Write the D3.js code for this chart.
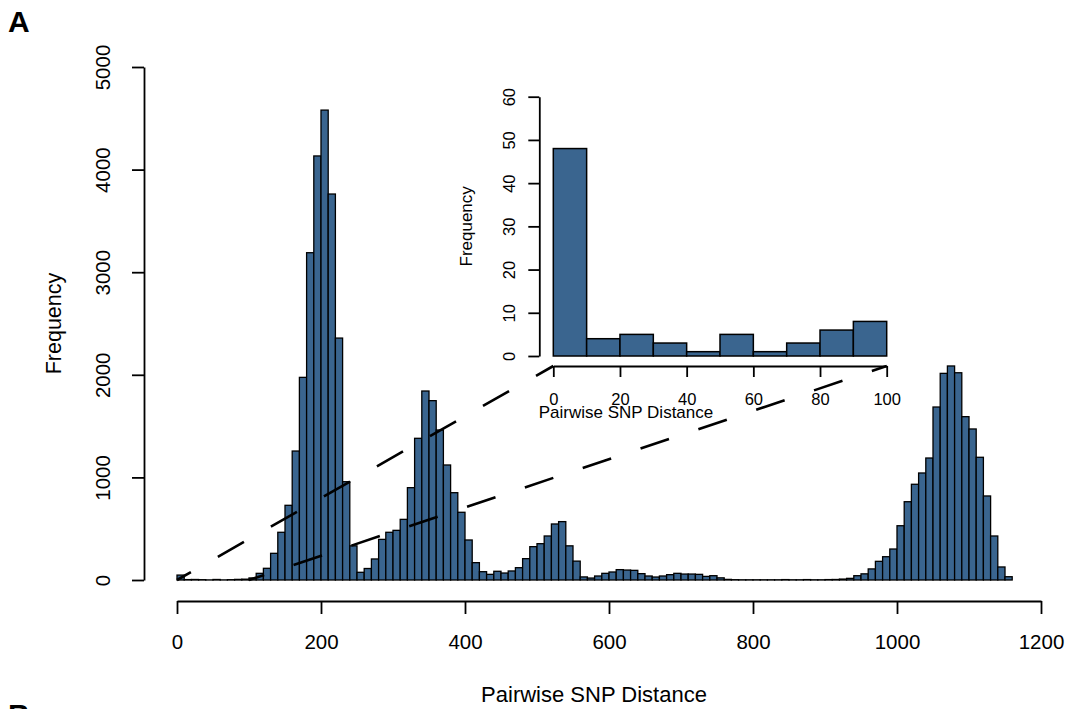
<!DOCTYPE html>
<html>
<head>
<meta charset="utf-8">
<script src="https://cdn.jsdelivr.net/npm/d3@7/dist/d3.min.js"></script>
<style>
  html, body { margin: 0; padding: 0; background: #ffffff; }
  svg { display: block; }
  text { font-family: "Liberation Sans", Arial, Helvetica, sans-serif; fill: #000; }
</style>
</head>
<body>
<svg id="chart" width="1065" height="709"></svg>
<script>
// ---------------- DATA ----------------
// Main histogram: counts per 10-SNP bin, starting at 0
const mainBinWidth = 10;
const mainCounts = [
  48, 4, 5, 3, 1, 5, 1, 3, 6, 8,            // 0-100
  20, 65, 114, 260, 465, 728, 1257, 1975, 3190, 4133,   // 100-200
  4580, 3762, 2358, 958, 333, 75, 112, 205, 396, 465,   // 200-300
  484, 591, 900, 1381, 1842, 1748, 1462, 1121, 851, 660, // 300-400
  390, 169, 81, 55, 85, 68, 88, 120, 208, 325,          // 400-500
  354, 429, 546, 569, 333, 184, 30, 19, 39, 65,         // 500-600
  78, 101, 97, 94, 62, 39, 29, 39, 52, 65,              // 600-700
  58, 58, 55, 35, 42, 21, 6, 3, 2, 2,                   // 700-800
  2, 2, 2, 2, 4, 2, 2, 4, 2, 2,                         // 800-900
  4, 5, 9, 16, 42, 60, 108, 182, 227, 302,              // 900-1000
  529, 763, 933, 1043, 1189, 1686, 2014, 2086, 2020, 1592, // 1000-1100
  1472, 1196, 819, 429, 127, 32                          // 1100-1160
];
const mainXTicks = [0, 200, 400, 600, 800, 1000, 1200];
const mainYTicks = [0, 1000, 2000, 3000, 4000, 5000];

// Inset histogram: 0-100 zoom
const insetBinWidth = 10;
const insetCounts = [48, 4, 5, 3, 1, 5, 1, 3, 6, 8];
const insetXTicks = [0, 20, 40, 60, 80, 100];
const insetYTicks = [0, 10, 20, 30, 40, 50, 60];

// Zoom connector lines: main-plot point (distance, frequency) -> inset x-axis position
const connectorMainX = [0, 100];
const connectorMainY = [0, 0];
const connectorInsetX = [0, 100];

const xLabel = "Pairwise SNP Distance";
const yLabel = "Frequency";

// ---------------- LAYOUT ----------------
const barFill = "#3a658f";
const svg = d3.select("#chart");

const x = d3.scaleLinear().domain([0, 1200]).range([177, 1041]);
const y = d3.scaleLinear().domain([0, 5000]).range([580, 67]);

const ix = d3.scaleLinear().domain([0, 100]).range([553.3, 886.7]);
const iy = d3.scaleLinear().domain([0, 60]).range([356, 96.7]);

// Panel letters
svg.append("text").attr("x", 8).attr("y", 31.5)
  .style("font-size", "30px").style("font-weight", "bold").text("A");
svg.append("text").attr("x", 8).attr("y", 725)
  .style("font-size", "30px").style("font-weight", "bold").text("B");

// Main bars
svg.append("g").selectAll("rect").data(mainCounts).join("rect")
  .attr("x", (d, i) => x(i * mainBinWidth))
  .attr("width", (d, i) => x((i + 1) * mainBinWidth) - x(i * mainBinWidth))
  .attr("y", d => y(d))
  .attr("height", d => y(0) - y(d))
  .attr("fill", barFill)
  .attr("stroke", "#000")
  .attr("stroke-width", 1.3);

// Main x axis
const gx = svg.append("g").attr("transform", "translate(0,601)")
  .call(d3.axisBottom(x).tickValues(mainXTicks).tickSize(13).tickSizeOuter(0).tickFormat(d3.format("d")));
gx.select(".domain").attr("stroke-width", 1.8);
gx.selectAll(".tick line").attr("stroke-width", 1.8);
gx.selectAll(".tick text").attr("y", 48).attr("dy", 0)
  .style("font-size", "20.5px").style("font-family", "Liberation Sans, Arial, sans-serif");

// Main y axis
const gy = svg.append("g").attr("transform", "translate(144,0)")
  .call(d3.axisLeft(y).tickValues(mainYTicks).tickSize(12).tickSizeOuter(0).tickFormat(d3.format("d")));
gy.select(".domain").attr("stroke-width", 1.8);
gy.selectAll(".tick line").attr("stroke-width", 1.8);
gy.selectAll(".tick text")
  .attr("transform", "rotate(-90)")
  .attr("x", 0).attr("y", -34).attr("dy", 0)
  .attr("text-anchor", "middle")
  .style("font-size", "20.5px").style("font-family", "Liberation Sans, Arial, sans-serif");

// Main axis titles
svg.append("text").attr("x", 594).attr("y", 702)
  .attr("text-anchor", "middle").style("font-size", "22px").text(xLabel);
svg.append("text")
  .attr("transform", `translate(61,${(y(0) + y(5000)) / 2}) rotate(-90)`)
  .attr("text-anchor", "middle").style("font-size", "21.5px").text(yLabel);

// Inset bars
svg.append("g").selectAll("rect").data(insetCounts).join("rect")
  .attr("x", (d, i) => ix(i * insetBinWidth))
  .attr("width", (d, i) => ix((i + 1) * insetBinWidth) - ix(i * insetBinWidth))
  .attr("y", d => iy(d))
  .attr("height", d => iy(0) - iy(d))
  .attr("fill", barFill)
  .attr("stroke", "#000")
  .attr("stroke-width", 1.5);

const insetAxisY = 366;
const gix = svg.append("g").attr("transform", `translate(0,${insetAxisY})`)
  .call(d3.axisBottom(ix).tickValues(insetXTicks).tickSize(11).tickSizeOuter(0).tickFormat(d3.format("d")));
gix.select(".domain").attr("stroke-width", 1.8);
gix.selectAll(".tick line").attr("stroke-width", 1.8);
gix.selectAll(".tick text").attr("y", 39).attr("dy", 0)
  .style("font-size", "16.5px").style("font-family", "Liberation Sans, Arial, sans-serif");

const giy = svg.append("g").attr("transform", "translate(539.3,0)")
  .call(d3.axisLeft(iy).tickValues(insetYTicks).tickSize(11).tickSizeOuter(0).tickFormat(d3.format("d")));
giy.select(".domain").attr("stroke-width", 1.8);
giy.selectAll(".tick line").attr("stroke-width", 1.8);
giy.selectAll(".tick text")
  .attr("transform", "rotate(-90)")
  .attr("x", 0).attr("y", -24.5).attr("dy", 0)
  .attr("text-anchor", "middle")
  .style("font-size", "16.5px").style("font-family", "Liberation Sans, Arial, sans-serif");

svg.append("text").attr("x", 626).attr("y", 417.5)
  .attr("text-anchor", "middle").style("font-size", "17px").text(xLabel);
svg.append("text")
  .attr("transform", `translate(472,${(iy(0) + iy(60)) / 2}) rotate(-90)`)
  .attr("text-anchor", "middle").style("font-size", "17px").text(yLabel);

// Connector dashed lines
connectorMainX.forEach((mx, k) => {
  svg.append("line")
    .attr("x1", x(mx)).attr("y1", y(connectorMainY[k]))
    .attr("x2", ix(connectorInsetX[k])).attr("y2", insetAxisY)
    .attr("stroke", "#000")
    .attr("stroke-width", 2.6)
    .attr("stroke-dasharray", "30,31")
    .attr("stroke-dashoffset", 14);
});
</script>
</body>
</html>
